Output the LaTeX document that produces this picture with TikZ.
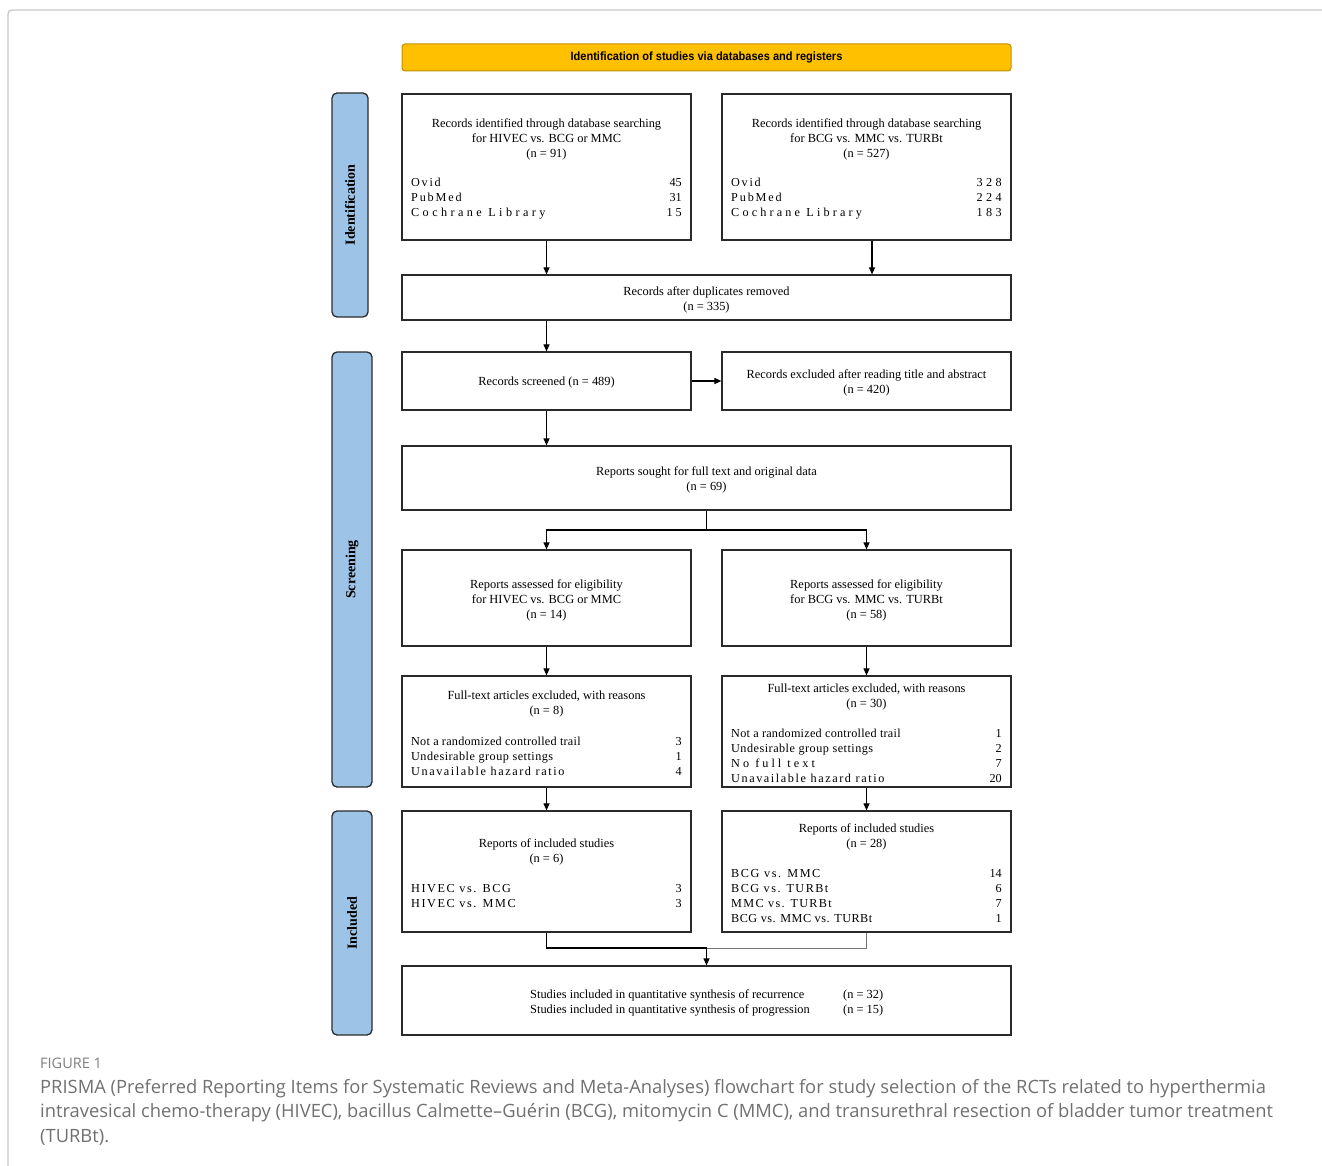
\documentclass[tikz,border=0pt]{standalone}
\usepackage{fontspec}
\setmainfont{Liberation Serif}
\newfontfamily\capfont{Open Sans}
\newfontfamily\banfont[FakeStretch=0.92]{Liberation Sans}
\usetikzlibrary{arrows.meta}
\definecolor{banfill}{HTML}{FFC000}
\definecolor{banline}{HTML}{C09000}
\definecolor{sidefill}{HTML}{9DC3E6}
\definecolor{sideline}{HTML}{2B2B2B}
\definecolor{boxline}{HTML}{2A2A2A}
\definecolor{capgray}{HTML}{707070}
\definecolor{figgray}{HTML}{7E7E7E}
\definecolor{framegray}{HTML}{C8C8C8}
\newcommand{\lsp}[2]{{\addfontfeature{LetterSpace=#1}#2}}
\tikzset{
  box/.style={draw=boxline, line width=1.2pt, fill=white, inner sep=0pt, rectangle},
  side/.style={draw=sideline, fill=sidefill, line width=1.3pt, rounded corners=5pt, inner sep=0pt},
  sidetxt/.style={rotate=90, inner sep=0pt, font=\bfseries\fontsize{14}{16}\selectfont},
  txt/.style={inner sep=0pt, align=center, yshift=-1.5pt, font=\fontsize{12.4}{15}\selectfont},
  lst/.style={inner sep=0pt, anchor=base west, yshift=-1pt, font=\fontsize{12.2}{15}\selectfont},
  num/.style={inner sep=0pt, anchor=base east, yshift=-1pt, font=\fontsize{12.2}{15}\selectfont},
  arr/.style={-{Triangle[length=7pt,width=6pt]}, line width=1.1pt, draw=black},
  conn/.style={line width=1.1pt, draw=black},
  capt/.style={inner sep=0pt, anchor=base west, text=capgray, font=\capfont\fontsize{18.35}{21}\selectfont},
}
\begin{document}
\begin{tikzpicture}[x=1pt,y=-1pt]
\useasboundingbox (0,0) rectangle (1322,1166);
% outer frame
\draw[framegray, line width=1.4pt, rounded corners=4pt] (8,1166) -- (8,10) -- (1322,10);

% banner
\node[draw=banline, fill=banfill, line width=1pt, rounded corners=3pt, minimum width=609pt, minimum height=27pt, inner sep=0pt] (ban) at (706.5,57.5) {};
\node[inner sep=0pt, font=\banfont\bfseries\fontsize{12}{14}\selectfont] (bant) at (706.5,57.5) {Identification of studies via databases and registers};

% side labels
\node[side, minimum width=36pt, minimum height=224pt] (s1) at (350,205) {};
\node[sidetxt] (s1t) at (350,205) {Identification};
\node[side, minimum width=40pt, minimum height=435pt] (s2) at (352,569.5) {};
\node[sidetxt] (s2t) at (352,569.5) {Screening};
\node[side, minimum width=40pt, minimum height=224pt] (s3) at (352,923) {};
\node[sidetxt] (s3t) at (352,923) {Included};

% boxes
\node[box, minimum width=289pt, minimum height=146pt] (a1) at (546.5,167) {};
\node[box, minimum width=289pt, minimum height=146pt] (a2) at (866.5,167) {};
\node[box, minimum width=609pt, minimum height=45pt] (dup) at (706.5,297.5) {};
\node[box, minimum width=289pt, minimum height=58pt] (scr) at (546.5,381) {};
\node[box, minimum width=289pt, minimum height=58pt] (exc) at (866.5,381) {};
\node[box, minimum width=609pt, minimum height=64pt] (sou) at (706.5,478) {};
\node[box, minimum width=289pt, minimum height=96pt] (el) at (546.5,598) {};
\node[box, minimum width=289pt, minimum height=96pt] (er) at (866.5,598) {};
\node[box, minimum width=289pt, minimum height=111pt] (fl) at (546.5,731.5) {};
\node[box, minimum width=289pt, minimum height=111pt] (fr) at (866.5,731.5) {};
\node[box, minimum width=289pt, minimum height=121pt] (il) at (546.5,871.5) {};
\node[box, minimum width=289pt, minimum height=121pt] (ir) at (866.5,871.5) {};
\node[box, minimum width=609pt, minimum height=69pt] (fin) at (706.5,1000.5) {};

% texts: identification
\node[txt] (a1t) at (546.5,138) {Records identified through database searching\\for HIVEC vs. BCG or MMC\\(n = 91)};
\node[lst] (a1l1) at (411,186) {\lsp{14}{Ovid}};
\node[lst] (a1l2) at (411,201) {\lsp{15}{PubMed}};
\node[lst] (a1l3) at (411,216) {\lsp{28}{Cochrane Library}};
\node[num] (a1n1) at (682,186) {45};
\node[num] (a1n2) at (682,201) {31};
\node[num] (a1n3) at (682,216) {\lsp{25}{15}};

\node[txt] (a2t) at (866.5,138) {Records identified through database searching\\for BCG vs. MMC vs. TURBt\\(n = 527)};
\node[lst] (a2l1) at (731,186) {\lsp{14}{Ovid}};
\node[lst] (a2l2) at (731,201) {\lsp{15}{PubMed}};
\node[lst] (a2l3) at (731,216) {\lsp{26}{Cochrane Library}};
\node[num] (a2n1) at (1002,186) {\lsp{28}{328}};
\node[num] (a2n2) at (1002,201) {\lsp{28}{224}};
\node[num] (a2n3) at (1002,216) {\lsp{28}{183}};

\node[txt] (dupt) at (706.5,298.5) {Records after duplicates removed\\(n = 335)};

% screening
\node[txt] (scrt) at (546.5,381) {Records screened (n = 489)};
\node[txt] (exct) at (866.5,381.5) {Records excluded after reading title and abstract\\(n = 420)};
\node[txt] (sout) at (706.5,478.5) {Reports sought for full text and original data\\(n = 69)};
\node[txt] (elt) at (546.5,599) {Reports assessed for eligibility\\for HIVEC vs. BCG or MMC\\(n = 14)};
\node[txt] (ert) at (866.5,599) {Reports assessed for eligibility\\for BCG vs. MMC vs. TURBt\\(n = 58)};

\node[txt] (flt) at (546.5,702.5) {Full-text articles excluded, with reasons\\(n = 8)};
\node[lst] (fll1) at (411,744) {\lsp{2}{Not a randomized controlled trail}};
\node[lst] (fll2) at (411,759) {\lsp{4}{Undesirable group settings}};
\node[lst] (fll3) at (411,774) {\lsp{13}{Unavailable hazard ratio}};
\node[num] (fln1) at (682,744) {3};
\node[num] (fln2) at (682,759) {1};
\node[num] (fln3) at (682,774) {4};

\node[txt] (frt) at (866.5,695.5) {Full-text articles excluded, with reasons\\(n = 30)};
\node[lst] (frl1) at (731,736) {\lsp{2}{Not a randomized controlled trail}};
\node[lst] (frl2) at (731,751) {\lsp{4}{Undesirable group settings}};
\node[lst] (frl3) at (731,766) {\lsp{25}{No full text}};
\node[lst] (frl4) at (731,781) {\lsp{13}{Unavailable hazard ratio}};
\node[num] (frn1) at (1002,736) {1};
\node[num] (frn2) at (1002,751) {2};
\node[num] (frn3) at (1002,766) {7};
\node[num] (frn4) at (1002,781) {20};

% included
\node[txt] (ilt) at (546.5,850.5) {Reports of included studies\\(n = 6)};
\node[lst] (ill1) at (411,891) {\lsp{13}{HIVEC vs. BCG}};
\node[lst] (ill2) at (411,906) {\lsp{13}{HIVEC vs. MMC}};
\node[num] (iln1) at (682,891) {3};
\node[num] (iln2) at (682,906) {3};

\node[txt] (irt) at (866.5,835.5) {Reports of included studies\\(n = 28)};
\node[lst] (irl1) at (731,876) {\lsp{13}{BCG vs. MMC}};
\node[lst] (irl2) at (731,891) {\lsp{12}{BCG vs. TURBt}};
\node[lst] (irl3) at (731,906) {\lsp{11}{MMC vs. TURBt}};
\node[lst] (irl4) at (731,921) {\lsp{4}{BCG vs. MMC vs. TURBt}};
\node[num] (irn1) at (1002,876) {14};
\node[num] (irn2) at (1002,891) {6};
\node[num] (irn3) at (1002,906) {7};
\node[num] (irn4) at (1002,921) {1};

\node[txt, align=left, anchor=west] (fint1) at (530,1001.5) {Studies included in quantitative synthesis of recurrence\\Studies included in quantitative synthesis of progression};
\node[txt, align=left, anchor=west] (fint2) at (843,1001.5) {(n = 32)\\(n = 15)};

% connectors
\draw[arr] (a1.south) -- (a1.south |- dup.north);
\draw[arr] ([xshift=5.5pt]a2.south) -- ([xshift=5.5pt]a2.south |- dup.north);
\draw[arr] (dup.south -| scr.north) -- (scr.north);
\draw[arr] (scr.east) -- (exc.west);
\draw[arr] (scr.south) -- (scr.south |- sou.north);
\coordinate (j1) at (706.5,530);
\draw[conn] (sou.south) -- (j1);
\draw[arr] (j1) -| (el.north);
\draw[arr] (j1) -| (er.north);
\draw[arr] (el.south) -- (fl.north);
\draw[arr] (er.south) -- (fr.north);
\draw[arr] (fl.south) -- (il.north);
\draw[arr] (fr.south) -- (ir.north);
\coordinate (j2) at (706.5,948);
\draw[conn] (il.south) |- (j2);
\draw[line width=0.6pt, draw=black!55] (ir.south) |- (j2);
\draw[arr] (j2) -- (fin.north);

% caption
\node[inner sep=0pt, anchor=base west, text=figgray, font=\capfont\fontsize{14.5}{16}\selectfont] (fig) at (40,1068) {FIGURE 1};
\node[capt] (c1) at (40,1093) {PRISMA (Preferred Reporting Items for Systematic Reviews and Meta-Analyses) flowchart for study selection of the RCTs related to hyperthermia};
\node[capt] (c2) at (40,1117) {intravesical chemo-therapy (HIVEC), bacillus Calmette{\textendash}Guérin (BCG), mitomycin C (MMC), and transurethral resection of bladder tumor treatment};
\node[capt] (c3) at (40,1142) {(TURBt).};
\end{tikzpicture}
\end{document}
